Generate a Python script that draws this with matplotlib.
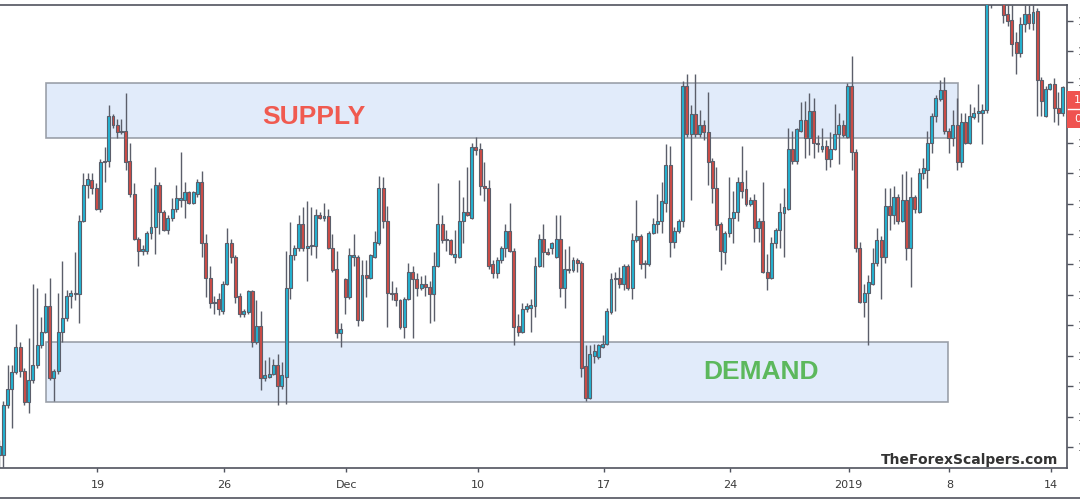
import numpy as np
import matplotlib
matplotlib.use("Agg")
import matplotlib.pyplot as plt
from matplotlib.patches import Rectangle
from matplotlib.lines import Line2D

# 4h candles, prices in 1e-4 units (pips)
opens = [11235, 11235, 11268, 11279, 11290, 11307, 11291, 11270, 11285, 11295,
         11308, 11317, 11334, 11286, 11291, 11317, 11326, 11341, 11343, 11342,
         11391, 11415, 11418, 11413, 11399, 11430, 11431, 11461, 11455, 11450,
         11451, 11431, 11409, 11379, 11371, 11371, 11383, 11387, 11415, 11397,
         11385, 11393, 11399, 11405, 11405, 11410, 11403, 11409, 11417, 11376,
         11353, 11336, 11339, 11331, 11349, 11376, 11367, 11341, 11329, 11330,
         11344, 11310, 11321, 11286, 11287, 11289, 11295, 11281, 11287, 11346,
         11368, 11373, 11389, 11373, 11374, 11374, 11395, 11393, 11394, 11373,
         11359, 11316, 11352, 11340, 11367, 11367, 11325, 11355, 11353, 11367,
         11376, 11413, 11391, 11343, 11343, 11338, 11320, 11339, 11357, 11352,
         11346, 11349, 11347, 11342, 11361, 11389, 11378, 11378, 11367, 11367,
         11391, 11397, 11393, 11440, 11439, 11414, 11413, 11362, 11356, 11365,
         11373, 11384, 11371, 11321, 11317, 11332, 11333, 11334, 11361, 11379,
         11370, 11373, 11367, 11379, 11346, 11359, 11358, 11365, 11363, 11294,
         11273, 11301, 11300, 11307, 11309, 11330, 11353, 11353, 11349, 11361,
         11346, 11378, 11381, 11362, 11362, 11383, 11389, 11391, 11403, 11428,
         11377, 11384, 11391, 11481, 11449, 11462, 11449, 11455, 11450, 11431,
         11413, 11389, 11370, 11383, 11393, 11397, 11417, 11412, 11402, 11405,
         11386, 11391, 11357, 11353, 11376, 11385, 11396, 11399, 11439, 11431,
         11451, 11458, 11446, 11464, 11443, 11439, 11441, 11432, 11439, 11449,
         11455, 11447, 11481, 11437, 11373, 11337, 11343, 11349, 11363, 11378,
         11367, 11401, 11395, 11407, 11391, 11405, 11373, 11407, 11397, 11423,
         11425, 11443, 11461, 11472, 11478, 11451, 11446, 11455, 11430, 11457,
         11443, 11460, 11463, 11463, 11465, 11551, 11558, 11565, 11543, 11529,
         11525, 11510, 11503, 11522, 11529, 11523, 11531, 11485, 11461, 11479,
         11482, 11466, 11463]
highs = [11245, 11271, 11295, 11295, 11322, 11310, 11293, 11313, 11349, 11346,
         11327, 11343, 11353, 11292, 11343, 11364, 11345, 11345, 11370, 11395,
         11423, 11423, 11423, 11416, 11432, 11440, 11468, 11462, 11459, 11459,
         11476, 11443, 11416, 11380, 11375, 11384, 11413, 11427, 11417, 11398,
         11395, 11406, 11415, 11437, 11417, 11411, 11411, 11419, 11424, 11382,
         11361, 11341, 11343, 11351, 11386, 11379, 11368, 11343, 11332, 11345,
         11345, 11338, 11331, 11298, 11300, 11299, 11302, 11297, 11371, 11390,
         11375, 11395, 11400, 11404, 11400, 11399, 11397, 11403, 11399, 11382,
         11371, 11323, 11353, 11373, 11382, 11368, 11365, 11365, 11369, 11384,
         11421, 11420, 11401, 11351, 11347, 11339, 11340, 11363, 11361, 11356,
         11354, 11355, 11351, 11370, 11416, 11395, 11385, 11379, 11385, 11418,
         11407, 11427, 11443, 11447, 11443, 11430, 11418, 11365, 11367, 11374,
         11389, 11403, 11373, 11329, 11336, 11336, 11339, 11367, 11382, 11389,
         11373, 11377, 11395, 11395, 11372, 11374, 11367, 11366, 11364, 11308,
         11308, 11309, 11309, 11315, 11333, 11356, 11357, 11360, 11362, 11362,
         11383, 11405, 11382, 11365, 11384, 11393, 11409, 11417, 11442, 11441,
         11387, 11392, 11484, 11489, 11468, 11489, 11465, 11458, 11477, 11433,
         11427, 11390, 11384, 11420, 11411, 11420, 11441, 11425, 11407, 11409,
         11393, 11417, 11369, 11380, 11386, 11403, 11413, 11453, 11451, 11453,
         11470, 11471, 11476, 11473, 11448, 11453, 11445, 11450, 11469, 11463,
         11458, 11483, 11501, 11439, 11377, 11349, 11355, 11373, 11386, 11381,
         11413, 11413, 11414, 11409, 11422, 11424, 11420, 11408, 11426, 11433,
         11451, 11463, 11475, 11485, 11487, 11453, 11465, 11473, 11463, 11463,
         11469, 11467, 11482, 11469, 11558, 11565, 11572, 11570, 11548, 11535,
         11535, 11517, 11527, 11535, 11535, 11535, 11533, 11487, 11481, 11483,
         11486, 11477, 11481]
lows = [11225, 11227, 11266, 11253, 11289, 11287, 11268, 11263, 11283, 11293,
        11306, 11316, 11285, 11271, 11289, 11310, 11324, 11333, 11338, 11323,
        11390, 11406, 11409, 11398, 11397, 11417, 11427, 11453, 11446, 11449,
        11425, 11407, 11378, 11361, 11368, 11369, 11379, 11369, 11382, 11384,
        11382, 11391, 11397, 11400, 11393, 11402, 11402, 11407, 11367, 11340,
        11333, 11329, 11328, 11329, 11348, 11363, 11336, 11327, 11327, 11329,
        11307, 11309, 11278, 11284, 11286, 11288, 11268, 11279, 11269, 11339,
        11365, 11371, 11371, 11351, 11368, 11366, 11392, 11391, 11372, 11357,
        11313, 11307, 11329, 11339, 11361, 11321, 11324, 11340, 11352, 11366,
        11375, 11386, 11320, 11338, 11334, 11319, 11313, 11338, 11313, 11341,
        11345, 11341, 11323, 11324, 11360, 11376, 11371, 11368, 11363, 11366,
        11376, 11394, 11392, 11435, 11408, 11404, 11359, 11353, 11353, 11363,
        11367, 11370, 11308, 11314, 11316, 11330, 11317, 11327, 11360, 11360,
        11368, 11369, 11366, 11340, 11333, 11356, 11357, 11357, 11287, 11271,
        11272, 11296, 11299, 11306, 11308, 11329, 11331, 11346, 11345, 11345,
        11339, 11377, 11359, 11353, 11361, 11382, 11383, 11383, 11397, 11367,
        11373, 11383, 11387, 11447, 11405, 11447, 11447, 11445, 11415, 11403,
        11385, 11358, 11362, 11380, 11376, 11391, 11406, 11401, 11401, 11377,
        11377, 11356, 11345, 11352, 11373, 11373, 11367, 11398, 11429, 11429,
        11450, 11433, 11435, 11433, 11437, 11437, 11425, 11427, 11438, 11429,
        11447, 11446, 11425, 11370, 11336, 11327, 11308, 11348, 11361, 11339,
        11363, 11385, 11389, 11389, 11390, 11365, 11347, 11396, 11396, 11419,
        11413, 11436, 11457, 11471, 11449, 11436, 11441, 11425, 11427, 11442,
        11442, 11459, 11457, 11442, 11463, 11533, 11545, 11540, 11523, 11521,
        11501, 11489, 11500, 11517, 11519, 11518, 11461, 11461, 11460, 11478,
        11457, 11455, 11461]
closes = [11241, 11268, 11279, 11290, 11307, 11291, 11270, 11285, 11295, 11308,
          11317, 11334, 11286, 11291, 11317, 11326, 11341, 11343, 11342, 11391,
          11415, 11419, 11413, 11399, 11430, 11431, 11461, 11455, 11450, 11451,
          11430, 11409, 11379, 11371, 11372, 11383, 11387, 11415, 11397, 11385,
          11393, 11399, 11406, 11406, 11410, 11403, 11410, 11417, 11376, 11353,
          11336, 11337, 11332, 11349, 11376, 11367, 11340, 11329, 11331, 11344,
          11310, 11321, 11286, 11288, 11289, 11295, 11281, 11288, 11346, 11368,
          11373, 11389, 11373, 11374, 11375, 11395, 11393, 11394, 11373, 11358,
          11316, 11319, 11340, 11368, 11368, 11325, 11355, 11353, 11368, 11377,
          11413, 11391, 11343, 11342, 11338, 11320, 11339, 11357, 11352, 11346,
          11349, 11347, 11342, 11361, 11389, 11378, 11379, 11369, 11369, 11391,
          11397, 11395, 11440, 11438, 11414, 11413, 11361, 11356, 11365, 11373,
          11384, 11371, 11320, 11317, 11332, 11334, 11335, 11361, 11379, 11370,
          11369, 11376, 11379, 11346, 11359, 11358, 11365, 11363, 11293, 11273,
          11302, 11304, 11308, 11309, 11331, 11352, 11352, 11349, 11361, 11346,
          11378, 11381, 11362, 11363, 11383, 11389, 11391, 11404, 11428, 11377,
          11384, 11391, 11481, 11449, 11462, 11449, 11455, 11450, 11430, 11413,
          11388, 11371, 11383, 11393, 11397, 11417, 11411, 11402, 11405, 11386,
          11391, 11357, 11353, 11376, 11385, 11397, 11400, 11439, 11431, 11452,
          11458, 11446, 11464, 11443, 11442, 11441, 11432, 11439, 11449, 11455,
          11448, 11481, 11437, 11373, 11337, 11343, 11350, 11363, 11378, 11367,
          11401, 11395, 11407, 11391, 11405, 11373, 11407, 11399, 11423, 11426,
          11443, 11461, 11473, 11478, 11451, 11446, 11455, 11430, 11457, 11443,
          11461, 11463, 11464, 11465, 11551, 11558, 11565, 11543, 11528, 11524,
          11509, 11503, 11522, 11529, 11523, 11530, 11485, 11471, 11479, 11482,
          11466, 11463, 11480]

# date ticks (in candle index units)
date_ticks = [24.3, 54.3, 83.3, 114.4, 144.3, 174.3, 202.3, 226.2, 250.2]
date_labels = ['19', '26', 'Dec', '10', '17', '24', '2019', '8', '14']

# zones: (start, end, low, high)
supply_zone = (12.05, 228.2, 11446, 11483)
demand_zone = (12.05, 225.9, 11270, 11310)
# label anchors: (candle index, price)
supply_label = (75.6, 11460)
demand_label = (181.5, 11290)

o = np.array(opens) / 1e4
h = np.array(highs) / 1e4
l = np.array(lows) / 1e4
c = np.array(closes) / 1e4
x = np.arange(1, len(o) + 1)

up_col = '#22b4d3'
down_col = '#cf4b45'
edge_col = '#5b5e6a'

fig = plt.figure(figsize=(10.8, 5.0), dpi=100)
ax = fig.add_axes([0, 1 - 468 / 500, 1067 / 1080, 463 / 500])

for (x0, x1, lo, hi) in [supply_zone, demand_zone]:
    ax.add_patch(Rectangle((x0, lo / 1e4), x1 - x0, (hi - lo) / 1e4,
                           facecolor='#dce8fa', edgecolor='#8c919b', lw=1.2,
                           alpha=0.85, zorder=1))

ax.vlines(x, l, h, color=edge_col, lw=1.0, zorder=2)
colors = np.where(c >= o, up_col, down_col)
bottoms = np.minimum(o, c)
heights = np.maximum(np.abs(c - o), 0.00007)
ax.bar(x, heights, bottom=bottoms, width=0.7, color=colors,
       edgecolor=edge_col, linewidth=0.8, zorder=3)

ax.text(supply_label[0], supply_label[1] / 1e4, 'SUPPLY', color='#f05a50',
        fontsize=19, fontweight='bold', family='Liberation Sans',
        ha='center', va='center', zorder=4)
ax.text(demand_label[0], demand_label[1] / 1e4, 'DEMAND', color='#5cb85c',
        fontsize=19, fontweight='bold', family='Liberation Sans',
        ha='center', va='center', zorder=4)

ax.set_xlim(1.22, 254.06)
ax.set_ylim(1.1226, 1.15347)

ax.set_xticks(date_ticks)
ax.set_xticklabels(date_labels)
yt = np.linspace(1.1240, 1.1524, 15)
ax.yaxis.tick_right()
ax.set_yticks(yt)
ax.set_yticklabels(['{:.4f}'.format(v) for v in yt])
ax.tick_params(axis='both', direction='out', length=4, width=1,
               color='#50535e', labelsize=8, labelcolor='#3a3a3a')
ax.tick_params(axis='x', length=3, pad=6)
ax.tick_params(axis='y', pad=4)

ax.spines['left'].set_visible(False)
for side in ['right', 'bottom', 'top']:
    ax.spines[side].set_color('#50535e')
    ax.spines[side].set_linewidth(1.2)

# bottom border of the time scale
fig.add_artist(Line2D([0, 1], [1 - 497.5 / 500, 1 - 497.5 / 500],
                      color='#50535e', lw=1.2))

# last price marker on the price scale
fig.add_artist(Rectangle((1067 / 1080, 1 - 128 / 500), 20 / 1080, 37 / 500,
                         facecolor='#ef5350', edgecolor='none'))
fig.add_artist(Line2D([1068 / 1080, 1], [1 - 109 / 500, 1 - 109 / 500],
                      color='white', lw=1))
fig.text(1074 / 1080, 1 - 100 / 500, '{:.4f}'.format(c[-1]), color='white',
         fontsize=8, va='center', ha='left')
fig.text(1074 / 1080, 1 - 119 / 500, '01:35:12', color='white',
         fontsize=8, va='center', ha='left')

fig.text(1058 / 1080, 1 - 460 / 500, 'TheForexScalpers.com', color='#333333',
         fontsize=10, fontweight='bold', ha='right', va='center')

fig.savefig('out.png', dpi=100)
